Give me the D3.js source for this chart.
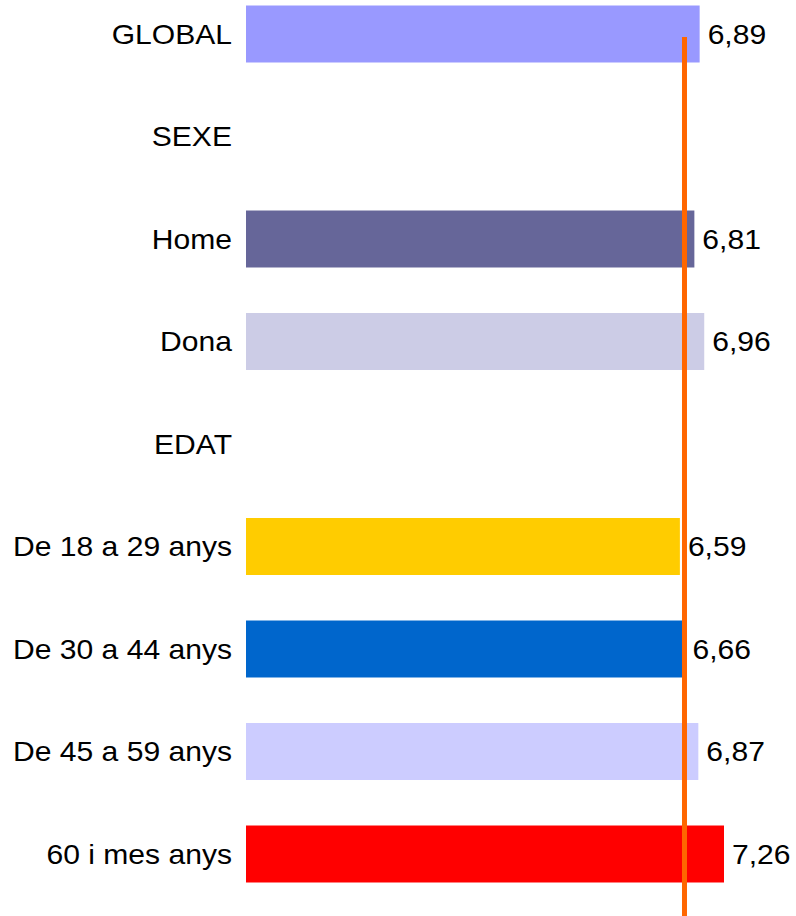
<!DOCTYPE html>
<html>
<head>
<meta charset="utf-8">
<script src="https://cdn.jsdelivr.net/npm/d3@7"></script>
<style>
  html, body { margin: 0; padding: 0; background: #ffffff; }
  svg { display: block; }
</style>
</head>
<body>
<div id="chart"></div>
<script>
// ---- data ----
const categories = ["GLOBAL", "SEXE", "Home", "Dona", "EDAT", "De 18 a 29 anys", "De 30 a 44 anys", "De 45 a 59 anys", "60 i mes anys"];
const values = [6.89, null, 6.81, 6.96, null, 6.59, 6.66, 6.87, 7.26];
const barColors = ["#9999FF", null, "#666699", "#CCCCE6", null, "#FFCC00", "#0066CC", "#CCCCFF", "#FF0000"];
const referenceValue = 6.66;

// ---- layout ----
const W = 796, H = 916;
const svg = d3.select("#chart").append("svg").attr("width", W).attr("height", H);

const x = d3.scaleLinear().domain([0, 7.26]).range([246, 724]);
const y = d3.scaleBand().domain(categories).range([-17.25, 905.25]).paddingInner(0.444).paddingOuter(0.222);

const fmt = d3.formatLocale({decimal: ",", thousands: ".", grouping: [3], currency: ["", "€"]}).format(".2f");
const fontFamily = "'Liberation Sans', Arial, sans-serif";
const fontSize = 28;
const stretch = 1.075;

const data = categories.map((c, i) => ({cat: c, value: values[i], color: barColors[i]}));

// bars
svg.selectAll("rect.bar")
  .data(data.filter(d => d.value != null))
  .join("rect")
  .attr("class", "bar")
  .attr("x", x(0))
  .attr("y", d => y(d.cat))
  .attr("width", d => x(d.value) - x(0))
  .attr("height", y.bandwidth())
  .attr("fill", d => d.color);

// category labels
svg.selectAll("text.cat")
  .data(data)
  .join("text")
  .attr("class", "cat")
  .attr("transform", d => `translate(${x(0) - 14},${y(d.cat) + y.bandwidth() / 2}) scale(${stretch},1)`)
  .attr("text-anchor", "end")
  .attr("dominant-baseline", "central")
  .attr("font-family", fontFamily)
  .attr("font-size", fontSize)
  .attr("fill", "#000")
  .text(d => d.cat);

// reference line
svg.append("line")
  .attr("x1", x(referenceValue))
  .attr("x2", x(referenceValue))
  .attr("y1", 37)
  .attr("y2", H)
  .attr("stroke", "#FF6600")
  .attr("stroke-width", 5);

// value labels
svg.selectAll("text.val")
  .data(data.filter(d => d.value != null))
  .join("text")
  .attr("class", "val")
  .attr("transform", d => `translate(${x(d.value) + 8},${y(d.cat) + y.bandwidth() / 2}) scale(${stretch},1)`)
  .attr("dominant-baseline", "central")
  .attr("font-family", fontFamily)
  .attr("font-size", fontSize)
  .attr("fill", "#000")
  .text(d => fmt(d.value));
</script>
</body>
</html>
